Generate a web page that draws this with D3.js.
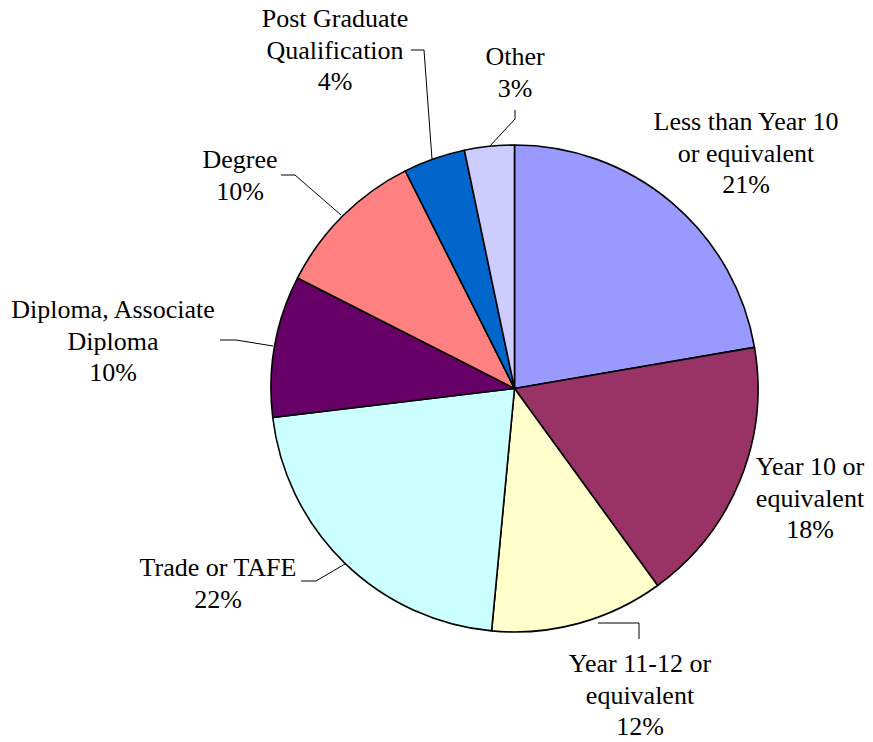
<!DOCTYPE html>
<html>
<head>
<meta charset="utf-8">
<script src="https://cdn.jsdelivr.net/npm/d3@7"></script>
<style>
  html, body { margin: 0; padding: 0; background: #fff; }
  svg { display: block; }
</style>
</head>
<body>
<svg id="chart" width="873" height="742"></svg>
<script>
// ---- Data ----
const categories = [
  "Less than Year 10 or equivalent",
  "Year 10 or equivalent",
  "Year 11-12 or equivalent",
  "Trade or TAFE",
  "Diploma, Associate Diploma",
  "Degree",
  "Post Graduate Qualification",
  "Other"
];
// slice sizes as drawn (percent of the whole)
const values = [22.3, 17.7, 11.5, 21.6, 9.4, 10.1, 4.1, 3.3];
// percentages printed on the labels
const percentLabels = ["21%", "18%", "12%", "22%", "10%", "10%", "4%", "3%"];
// label line breaks
const labelLines = [
  ["Less than Year 10", "or equivalent"],
  ["Year 10 or", "equivalent"],
  ["Year 11-12 or", "equivalent"],
  ["Trade or TAFE"],
  ["Diploma, Associate", "Diploma"],
  ["Degree"],
  ["Post Graduate", "Qualification"],
  ["Other"]
];
const colors = ["#9999FF", "#993366", "#FFFFCC", "#CCFFFF", "#660066", "#FF8080", "#0066CC", "#CCCCFF"];

// ---- Layout ----
const cx = 514.5, cy = 388.5, R = 243.5;
const fontSize = 26, lineGap = 31.5;
// label anchor: centre x, first baseline y
const labelPos = [
  [746, 130], [810, 475], [640, 672], [218, 576],
  [113, 318], [240, 168], [335, 27], [515, 65]
];
// leader lines (only for some labels)
const leaders = [
  null, null,
  [[598, 623], [639, 623], [639, 639]],
  [[301, 581], [316, 581], [345, 564]],
  [[220, 340], [236, 340], [273, 346]],
  [[281, 175], [295, 175], [341, 215]],
  [[411, 50], [424, 50], [432, 159]],
  [[515, 110], [515, 119], [489, 147]]
];

const svg = d3.select("#chart");
const pie = d3.pie().sort(null).value(d => d)
  .startAngle(0).endAngle(2 * Math.PI);
const arc = d3.arc().innerRadius(0).outerRadius(R);
const color = d3.scaleOrdinal().domain(categories).range(colors);

const g = svg.append("g").attr("transform", `translate(${cx},${cy})`);
g.selectAll("path.slice")
  .data(pie(values))
  .enter().append("path")
  .attr("class", "slice")
  .attr("d", arc)
  .attr("fill", (d, i) => color(categories[i]))
  .attr("stroke", "#000")
  .attr("stroke-width", 1.6)
  .attr("stroke-linejoin", "round");

// leader lines
const line = d3.line();
leaders.forEach(pts => {
  if (!pts) return;
  svg.append("path")
    .attr("d", line(pts))
    .attr("fill", "none")
    .attr("stroke", "#000")
    .attr("stroke-width", 1);
});

// labels
categories.forEach((c, i) => {
  const lines = labelLines[i].concat([percentLabels[i]]);
  const t = svg.append("text")
    .attr("x", labelPos[i][0])
    .attr("y", labelPos[i][1])
    .attr("text-anchor", "middle")
    .attr("font-family", "'Liberation Serif', 'Times New Roman', serif")
    .attr("font-size", fontSize)
    .attr("fill", "#000");
  lines.forEach((l, k) => {
    t.append("tspan")
      .attr("x", labelPos[i][0])
      .attr("y", labelPos[i][1] + k * lineGap)
      .text(l);
  });
});
</script>
</body>
</html>
